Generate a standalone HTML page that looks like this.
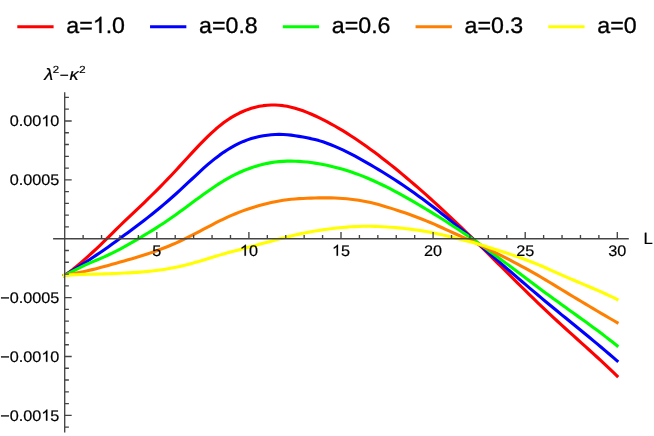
<!DOCTYPE html>
<html><head><meta charset="utf-8"><title>plot</title>
<style>
html,body{margin:0;padding:0;background:#fff;}
body{width:654px;height:436px;overflow:hidden;position:relative;font-family:"Liberation Sans",sans-serif;}
</style></head><body>
<svg width="654" height="436" viewBox="0 0 654 436" style="position:absolute;left:0;top:0;will-change:transform">
<g fill="none" stroke-width="3.1" stroke-linejoin="round" stroke-linecap="square">
<path stroke="#ff0000" d="M64.50,275.40 L68.48,272.64 L72.45,269.67 L76.43,266.50 L80.40,263.16 L84.38,259.68 L88.35,256.13 L92.33,252.51 L96.30,248.83 L100.28,245.07 L104.26,241.21 L108.23,237.28 L112.21,233.32 L116.18,229.38 L120.16,225.50 L124.13,221.69 L128.11,217.91 L132.08,214.15 L136.06,210.38 L140.04,206.59 L144.01,202.77 L147.99,198.90 L151.96,195.00 L155.94,191.05 L159.91,187.04 L163.89,182.99 L167.86,178.87 L171.84,174.70 L175.82,170.45 L179.79,166.15 L183.77,161.81 L187.74,157.47 L191.72,153.15 L195.69,148.87 L199.67,144.68 L203.64,140.59 L207.62,136.64 L211.59,132.87 L215.57,129.28 L219.55,125.92 L223.52,122.80 L227.50,119.95 L231.47,117.38 L235.45,115.07 L239.42,113.02 L243.40,111.23 L247.37,109.67 L251.35,108.34 L255.33,107.23 L259.30,106.34 L263.28,105.66 L267.25,105.20 L271.23,104.98 L275.20,104.98 L279.18,105.21 L283.15,105.66 L287.13,106.31 L291.11,107.16 L295.08,108.21 L299.06,109.42 L303.03,110.80 L307.01,112.33 L310.98,113.98 L314.96,115.75 L318.93,117.62 L322.91,119.59 L326.89,121.64 L330.86,123.78 L334.84,126.00 L338.81,128.31 L342.79,130.70 L346.76,133.16 L350.74,135.71 L354.71,138.32 L358.69,141.01 L362.67,143.76 L366.64,146.57 L370.62,149.44 L374.59,152.37 L378.57,155.36 L382.54,158.40 L386.52,161.49 L390.49,164.63 L394.47,167.83 L398.45,171.07 L402.42,174.36 L406.40,177.69 L410.37,181.06 L414.35,184.48 L418.32,187.94 L422.30,191.43 L426.27,194.96 L430.25,198.52 L434.23,202.12 L438.20,205.76 L442.18,209.42 L446.15,213.11 L450.13,216.84 L454.10,220.59 L458.08,224.37 L462.05,228.17 L466.03,232.00 L470.01,235.85 L473.98,239.72 L477.96,243.61 L481.93,247.52 L485.91,251.45 L489.88,255.39 L493.86,259.35 L497.83,263.31 L501.81,267.27 L505.78,271.23 L509.76,275.19 L513.74,279.15 L517.71,283.09 L521.69,287.02 L525.66,290.93 L529.64,294.83 L533.61,298.70 L537.59,302.54 L541.56,306.35 L545.54,310.13 L549.52,313.87 L553.49,317.57 L557.47,321.24 L561.44,324.88 L565.42,328.49 L569.39,332.09 L573.37,335.67 L577.34,339.25 L581.32,342.83 L585.30,346.41 L589.27,350.01 L593.25,353.62 L597.22,357.26 L601.20,360.92 L605.17,364.62 L609.15,368.37 L613.12,372.16 L617.10,376.00"/>
<path stroke="#0000ff" d="M64.50,275.40 L68.48,273.03 L72.45,270.63 L76.43,268.18 L80.40,265.65 L84.38,263.06 L88.35,260.43 L92.33,257.78 L96.30,255.13 L100.28,252.45 L104.26,249.72 L108.23,246.94 L112.21,244.10 L116.18,241.22 L120.16,238.30 L124.13,235.37 L128.11,232.45 L132.08,229.52 L136.06,226.57 L140.04,223.58 L144.01,220.52 L147.99,217.40 L151.96,214.22 L155.94,210.99 L159.91,207.71 L163.89,204.38 L167.86,200.99 L171.84,197.53 L175.82,194.00 L179.79,190.39 L183.77,186.71 L187.74,182.99 L191.72,179.25 L195.69,175.52 L199.67,171.83 L203.64,168.22 L207.62,164.71 L211.59,161.35 L215.57,158.15 L219.55,155.14 L223.52,152.34 L227.50,149.74 L231.47,147.36 L235.45,145.18 L239.42,143.20 L243.40,141.43 L247.37,139.89 L251.35,138.57 L255.33,137.47 L259.30,136.57 L263.28,135.84 L267.25,135.26 L271.23,134.81 L275.20,134.50 L279.18,134.36 L283.15,134.43 L287.13,134.69 L291.11,135.14 L295.08,135.72 L299.06,136.38 L303.03,137.08 L307.01,137.83 L310.98,138.64 L314.96,139.55 L318.93,140.62 L322.91,141.83 L326.89,143.20 L330.86,144.71 L334.84,146.34 L338.81,148.07 L342.79,149.91 L346.76,151.83 L350.74,153.84 L354.71,155.93 L358.69,158.10 L362.67,160.33 L366.64,162.60 L370.62,164.91 L374.59,167.25 L378.57,169.63 L382.54,172.04 L386.52,174.50 L390.49,176.99 L394.47,179.53 L398.45,182.12 L402.42,184.77 L406.40,187.47 L410.37,190.22 L414.35,193.04 L418.32,195.90 L422.30,198.82 L426.27,201.78 L430.25,204.77 L434.23,207.79 L438.20,210.85 L442.18,213.93 L446.15,217.06 L450.13,220.23 L454.10,223.43 L458.08,226.68 L462.05,229.97 L466.03,233.30 L470.01,236.66 L473.98,240.05 L477.96,243.47 L481.93,246.90 L485.91,250.34 L489.88,253.79 L493.86,257.24 L497.83,260.68 L501.81,264.13 L505.78,267.57 L509.76,271.01 L513.74,274.44 L517.71,277.86 L521.69,281.27 L525.66,284.67 L529.64,288.06 L533.61,291.44 L537.59,294.80 L541.56,298.14 L545.54,301.47 L549.52,304.77 L553.49,308.06 L557.47,311.32 L561.44,314.58 L565.42,317.82 L569.39,321.06 L573.37,324.29 L577.34,327.53 L581.32,330.78 L585.30,334.03 L589.27,337.30 L593.25,340.59 L597.22,343.90 L601.20,347.23 L605.17,350.60 L609.15,354.00 L613.12,357.44 L617.10,360.92"/>
<path stroke="#00ff00" d="M64.50,275.40 L68.48,273.34 L72.45,271.29 L76.43,269.27 L80.40,267.29 L84.38,265.39 L88.35,263.60 L92.33,261.91 L96.30,260.26 L100.28,258.60 L104.26,256.86 L108.23,255.02 L112.21,253.09 L116.18,251.10 L120.16,249.04 L124.13,246.90 L128.11,244.69 L132.08,242.44 L136.06,240.14 L140.04,237.81 L144.01,235.44 L147.99,233.04 L151.96,230.60 L155.94,228.11 L159.91,225.56 L163.89,222.94 L167.86,220.26 L171.84,217.51 L175.82,214.69 L179.79,211.82 L183.77,208.90 L187.74,205.96 L191.72,203.01 L195.69,200.06 L199.67,197.14 L203.64,194.25 L207.62,191.41 L211.59,188.65 L215.57,185.98 L219.55,183.40 L223.52,180.95 L227.50,178.63 L231.47,176.45 L235.45,174.41 L239.42,172.52 L243.40,170.77 L247.37,169.17 L251.35,167.71 L255.33,166.40 L259.30,165.23 L263.28,164.22 L267.25,163.35 L271.23,162.63 L275.20,162.06 L279.18,161.63 L283.15,161.33 L287.13,161.17 L291.11,161.13 L295.08,161.21 L299.06,161.39 L303.03,161.68 L307.01,162.07 L310.98,162.56 L314.96,163.12 L318.93,163.77 L322.91,164.50 L326.89,165.30 L330.86,166.19 L334.84,167.16 L338.81,168.20 L342.79,169.33 L346.76,170.54 L350.74,171.82 L354.71,173.19 L358.69,174.64 L362.67,176.17 L366.64,177.78 L370.62,179.47 L374.59,181.24 L378.57,183.08 L382.54,184.98 L386.52,186.95 L390.49,188.98 L394.47,191.06 L398.45,193.20 L402.42,195.38 L406.40,197.60 L410.37,199.87 L414.35,202.17 L418.32,204.50 L422.30,206.85 L426.27,209.24 L430.25,211.65 L434.23,214.08 L438.20,216.55 L442.18,219.04 L446.15,221.56 L450.13,224.11 L454.10,226.70 L458.08,229.31 L462.05,231.95 L466.03,234.63 L470.01,237.34 L473.98,240.08 L477.96,242.86 L481.93,245.67 L485.91,248.51 L489.88,251.39 L493.86,254.29 L497.83,257.22 L501.81,260.16 L505.78,263.12 L509.76,266.10 L513.74,269.08 L517.71,272.07 L521.69,275.07 L525.66,278.06 L529.64,281.05 L533.61,284.04 L537.59,287.01 L541.56,289.97 L545.54,292.91 L549.52,295.83 L553.49,298.73 L557.47,301.61 L561.44,304.47 L565.42,307.33 L569.39,310.18 L573.37,313.02 L577.34,315.87 L581.32,318.74 L585.30,321.61 L589.27,324.51 L593.25,327.43 L597.22,330.37 L601.20,333.36 L605.17,336.38 L609.15,339.44 L613.12,342.55 L617.10,345.72"/>
<path stroke="#ff8000" d="M64.50,275.40 L68.48,274.68 L72.45,273.92 L76.43,273.13 L80.40,272.31 L84.38,271.45 L88.35,270.56 L92.33,269.63 L96.30,268.65 L100.28,267.62 L104.26,266.56 L108.23,265.46 L112.21,264.35 L116.18,263.23 L120.16,262.10 L124.13,260.96 L128.11,259.82 L132.08,258.66 L136.06,257.48 L140.04,256.27 L144.01,255.03 L147.99,253.74 L151.96,252.40 L155.94,251.00 L159.91,249.55 L163.89,248.03 L167.86,246.45 L171.84,244.79 L175.82,243.06 L179.79,241.25 L183.77,239.37 L187.74,237.43 L191.72,235.43 L195.69,233.39 L199.67,231.31 L203.64,229.21 L207.62,227.11 L211.59,225.02 L215.57,222.97 L219.55,220.97 L223.52,219.03 L227.50,217.17 L231.47,215.40 L235.45,213.73 L239.42,212.15 L243.40,210.66 L247.37,209.26 L251.35,207.94 L255.33,206.70 L259.30,205.53 L263.28,204.43 L267.25,203.42 L271.23,202.49 L275.20,201.66 L279.18,200.94 L283.15,200.31 L287.13,199.77 L291.11,199.33 L295.08,198.96 L299.06,198.66 L303.03,198.43 L307.01,198.25 L310.98,198.11 L314.96,198.00 L318.93,197.92 L322.91,197.88 L326.89,197.87 L330.86,197.92 L334.84,198.02 L338.81,198.20 L342.79,198.45 L346.76,198.78 L350.74,199.19 L354.71,199.68 L358.69,200.26 L362.67,200.94 L366.64,201.72 L370.62,202.59 L374.59,203.55 L378.57,204.60 L382.54,205.71 L386.52,206.89 L390.49,208.11 L394.47,209.37 L398.45,210.66 L402.42,211.97 L406.40,213.33 L410.37,214.74 L414.35,216.19 L418.32,217.69 L422.30,219.23 L426.27,220.82 L430.25,222.47 L434.23,224.19 L438.20,225.97 L442.18,227.78 L446.15,229.61 L450.13,231.43 L454.10,233.23 L458.08,235.02 L462.05,236.80 L466.03,238.57 L470.01,240.36 L473.98,242.17 L477.96,244.01 L481.93,245.91 L485.91,247.85 L489.88,249.83 L493.86,251.84 L497.83,253.85 L501.81,255.87 L505.78,257.90 L509.76,259.95 L513.74,262.02 L517.71,264.13 L521.69,266.27 L525.66,268.44 L529.64,270.64 L533.61,272.88 L537.59,275.15 L541.56,277.48 L545.54,279.84 L549.52,282.24 L553.49,284.66 L557.47,287.08 L561.44,289.50 L565.42,291.92 L569.39,294.33 L573.37,296.73 L577.34,299.13 L581.32,301.51 L585.30,303.89 L589.27,306.26 L593.25,308.63 L597.22,310.98 L601.20,313.32 L605.17,315.65 L609.15,317.97 L613.12,320.28 L617.10,322.57"/>
<path stroke="#ffff00" d="M64.50,275.40 L68.48,275.14 L72.45,274.90 L76.43,274.69 L80.40,274.52 L84.38,274.39 L88.35,274.29 L92.33,274.20 L96.30,274.12 L100.28,274.02 L104.26,273.90 L108.23,273.76 L112.21,273.60 L116.18,273.44 L120.16,273.26 L124.13,273.06 L128.11,272.86 L132.08,272.62 L136.06,272.37 L140.04,272.08 L144.01,271.76 L147.99,271.40 L151.96,270.99 L155.94,270.52 L159.91,270.01 L163.89,269.43 L167.86,268.78 L171.84,268.07 L175.82,267.28 L179.79,266.41 L183.77,265.47 L187.74,264.47 L191.72,263.41 L195.69,262.31 L199.67,261.16 L203.64,259.99 L207.62,258.78 L211.59,257.57 L215.57,256.35 L219.55,255.13 L223.52,253.95 L227.50,252.81 L231.47,251.72 L235.45,250.67 L239.42,249.64 L243.40,248.61 L247.37,247.56 L251.35,246.48 L255.33,245.40 L259.30,244.31 L263.28,243.23 L267.25,242.17 L271.23,241.13 L275.20,240.09 L279.18,239.06 L283.15,238.03 L287.13,237.00 L291.11,236.00 L295.08,235.04 L299.06,234.12 L303.03,233.27 L307.01,232.48 L310.98,231.75 L314.96,231.06 L318.93,230.42 L322.91,229.81 L326.89,229.24 L330.86,228.72 L334.84,228.24 L338.81,227.81 L342.79,227.43 L346.76,227.10 L350.74,226.82 L354.71,226.59 L358.69,226.43 L362.67,226.32 L366.64,226.28 L370.62,226.31 L374.59,226.41 L378.57,226.56 L382.54,226.75 L386.52,226.99 L390.49,227.26 L394.47,227.56 L398.45,227.89 L402.42,228.25 L406.40,228.67 L410.37,229.14 L414.35,229.67 L418.32,230.26 L422.30,230.89 L426.27,231.57 L430.25,232.29 L434.23,233.08 L438.20,233.94 L442.18,234.85 L446.15,235.79 L450.13,236.75 L454.10,237.71 L458.08,238.67 L462.05,239.65 L466.03,240.65 L470.01,241.69 L473.98,242.76 L477.96,243.90 L481.93,245.11 L485.91,246.39 L489.88,247.71 L493.86,249.03 L497.83,250.33 L501.81,251.59 L505.78,252.85 L509.76,254.15 L513.74,255.48 L517.71,256.86 L521.69,258.27 L525.66,259.72 L529.64,261.20 L533.61,262.73 L537.59,264.33 L541.56,266.01 L545.54,267.76 L549.52,269.55 L553.49,271.36 L557.47,273.16 L561.44,274.92 L565.42,276.65 L569.39,278.36 L573.37,280.05 L577.34,281.72 L581.32,283.39 L585.30,285.07 L589.27,286.76 L593.25,288.46 L597.22,290.19 L601.20,291.95 L605.17,293.75 L609.15,295.58 L613.12,297.47 L617.10,299.41"/>
</g>
<g stroke="#444444" stroke-width="1.35" fill="none" stroke-linecap="butt">
<path d="M53.1,238.72 H628.8"/>
<path d="M64.7,92.3 V432.4"/>
<path d="M83.12,238.72 v-3.7 M101.54,238.72 v-3.7 M119.96,238.72 v-3.7 M138.38,238.72 v-3.7 M156.80,238.72 v-6.6 M175.22,238.72 v-3.7 M193.64,238.72 v-3.7 M212.06,238.72 v-3.7 M230.48,238.72 v-3.7 M248.90,238.72 v-6.6 M267.32,238.72 v-3.7 M285.74,238.72 v-3.7 M304.16,238.72 v-3.7 M322.58,238.72 v-3.7 M341.00,238.72 v-6.6 M359.42,238.72 v-3.7 M377.84,238.72 v-3.7 M396.26,238.72 v-3.7 M414.68,238.72 v-3.7 M433.10,238.72 v-6.6 M451.52,238.72 v-3.7 M469.94,238.72 v-3.7 M488.36,238.72 v-3.7 M506.78,238.72 v-3.7 M525.20,238.72 v-6.6 M543.62,238.72 v-3.7 M562.04,238.72 v-3.7 M580.46,238.72 v-3.7 M598.88,238.72 v-3.7 M617.30,238.72 v-6.6"/>
<path d="M64.7,427.12 h4.2 M64.7,415.35 h7.0 M64.7,403.57 h4.2 M64.7,391.80 h4.2 M64.7,380.02 h4.2 M64.7,368.25 h4.2 M64.7,356.47 h7.0 M64.7,344.70 h4.2 M64.7,332.92 h4.2 M64.7,321.14 h4.2 M64.7,309.37 h4.2 M64.7,297.60 h7.0 M64.7,285.82 h4.2 M64.7,274.05 h4.2 M64.7,262.27 h4.2 M64.7,250.50 h4.2 M64.7,226.94 h4.2 M64.7,215.17 h4.2 M64.7,203.39 h4.2 M64.7,191.62 h4.2 M64.7,179.84 h7.0 M64.7,168.07 h4.2 M64.7,156.30 h4.2 M64.7,144.52 h4.2 M64.7,132.74 h4.2 M64.7,120.97 h7.0 M64.7,109.19 h4.2 M64.7,97.42 h4.2"/>
</g>
<g fill="none" stroke-width="3.1">
<path stroke="#ff0000" d="M17.30,26.75 h36.3"/>
<path stroke="#0000ff" d="M150.05,26.75 h36.3"/>
<path stroke="#00ff00" d="M282.80,26.75 h36.3"/>
<path stroke="#ff8000" d="M415.55,26.75 h36.3"/>
<path stroke="#ffff00" d="M548.30,26.75 h36.3"/>
</g>
<g font-family="Liberation Sans, sans-serif" fill="#000" text-rendering="geometricPrecision">
<text transform="translate(66.30,32.90) scale(1.036,1)" font-size="22.4" stroke="#000" stroke-width="0.3">a=</text><path transform="translate(92.76,32.90) scale(0.011331,-0.010937)" d="M763 0H583V1147Q518 1085 412.5 1023Q307 961 223 930V1104Q374 1175 487 1276Q600 1377 647 1472H763Z" stroke="#000" stroke-width="27.4"/><text transform="translate(105.66,32.90) scale(1.036,1)" font-size="22.4" stroke="#000" stroke-width="0.3">.0</text>
<text transform="translate(199.05,32.90) scale(1.036,1)" font-size="22.4" stroke="#000" stroke-width="0.3">a=0.8</text>
<text transform="translate(331.80,32.90) scale(1.036,1)" font-size="22.4" stroke="#000" stroke-width="0.3">a=0.6</text>
<text transform="translate(464.55,32.90) scale(1.036,1)" font-size="22.4" stroke="#000" stroke-width="0.3">a=0.3</text>
<text transform="translate(597.30,32.90) scale(1.036,1)" font-size="22.4" stroke="#000" stroke-width="0.3">a=0</text>
<g fill="#000" stroke="#000" stroke-width="0.2">
<text transform="translate(152.28,255.70) scale(1.055,1)" font-size="15.4" stroke="#000" stroke-width="0.2">5</text>
<path transform="translate(239.87,255.70) scale(0.007933,-0.007520)" d="M763 0H583V1147Q518 1085 412.5 1023Q307 961 223 930V1104Q374 1175 487 1276Q600 1377 647 1472H763Z" stroke="#000" stroke-width="26.6"/><text transform="translate(248.90,255.70) scale(1.055,1)" font-size="15.4" stroke="#000" stroke-width="0.2">0</text>
<path transform="translate(331.97,255.70) scale(0.007933,-0.007520)" d="M763 0H583V1147Q518 1085 412.5 1023Q307 961 223 930V1104Q374 1175 487 1276Q600 1377 647 1472H763Z" stroke="#000" stroke-width="26.6"/><text transform="translate(341.00,255.70) scale(1.055,1)" font-size="15.4" stroke="#000" stroke-width="0.2">5</text>
<text transform="translate(424.07,255.70) scale(1.055,1)" font-size="15.4" stroke="#000" stroke-width="0.2">20</text>
<text transform="translate(516.17,255.70) scale(1.055,1)" font-size="15.4" stroke="#000" stroke-width="0.2">25</text>
<text transform="translate(608.27,255.70) scale(1.055,1)" font-size="15.4" stroke="#000" stroke-width="0.2">30</text>
<text transform="translate(9.72,126.27) scale(1.055,1)" font-size="15.4" stroke="#000" stroke-width="0.2">0.00</text><path transform="translate(41.33,126.27) scale(0.007933,-0.007520)" d="M763 0H583V1147Q518 1085 412.5 1023Q307 961 223 930V1104Q374 1175 487 1276Q600 1377 647 1472H763Z" stroke="#000" stroke-width="26.6"/><text transform="translate(50.37,126.27) scale(1.055,1)" font-size="15.4" stroke="#000" stroke-width="0.2">0</text>
<text transform="translate(9.72,185.15) scale(1.055,1)" font-size="15.4" stroke="#000" stroke-width="0.2">0.0005</text>
<text transform="translate(0.23,302.90) scale(1.055,1)" font-size="15.4" stroke="#000" stroke-width="0.2">−0.0005</text>
<text transform="translate(0.23,361.77) scale(1.055,1)" font-size="15.4" stroke="#000" stroke-width="0.2">−0.00</text><path transform="translate(41.33,361.77) scale(0.007933,-0.007520)" d="M763 0H583V1147Q518 1085 412.5 1023Q307 961 223 930V1104Q374 1175 487 1276Q600 1377 647 1472H763Z" stroke="#000" stroke-width="26.6"/><text transform="translate(50.37,361.77) scale(1.055,1)" font-size="15.4" stroke="#000" stroke-width="0.2">0</text>
<text transform="translate(0.23,420.65) scale(1.055,1)" font-size="15.4" stroke="#000" stroke-width="0.2">−0.00</text><path transform="translate(41.33,420.65) scale(0.007933,-0.007520)" d="M763 0H583V1147Q518 1085 412.5 1023Q307 961 223 930V1104Q374 1175 487 1276Q600 1377 647 1472H763Z" stroke="#000" stroke-width="26.6"/><text transform="translate(50.37,420.65) scale(1.055,1)" font-size="15.4" stroke="#000" stroke-width="0.2">5</text>
<text transform="translate(643.40,243.60) scale(1.03,1)" font-size="16.2" text-anchor="start">L</text>
<text transform="translate(44.20,79.80) scale(1.1,1)" font-size="16.5" text-anchor="start"><tspan font-style="italic">λ</tspan><tspan font-size="10.4" dy="-6.8" dx="-0.3">2</tspan><tspan dy="6.8" font-size="14" dx="0.6">−</tspan><tspan font-style="italic" dx="0.7">κ</tspan><tspan font-size="10.4" dy="-6.8" dx="0.6">2</tspan></text>
</g></g></svg>
</body></html>
